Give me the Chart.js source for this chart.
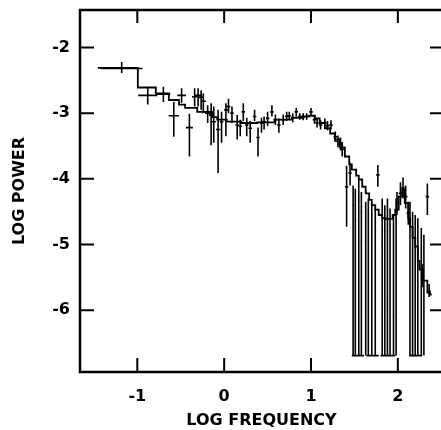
<!DOCTYPE html>
<html><head><meta charset="utf-8">
<script src="https://cdn.jsdelivr.net/npm/chart.js@4"></script>
<style>
html,body{margin:0;padding:0;background:#fff;overflow:hidden;width:441px;height:430px}
#wrap{width:441px;height:430px;overflow:hidden;position:relative}
canvas{display:block}
</style></head>
<body><div id="wrap"><canvas id="c" width="446" height="430"></canvas></div>
<script>
// ---- data (log frequency, log power) ----
const freq = [-1.18,-0.88,-0.70,-0.58,-0.49,-0.40,-0.34,-0.30,-0.265,-0.24,-0.19,-0.15,-0.12,-0.07,-0.03,
  0.02,0.05,0.09,0.15,0.185,0.22,0.26,0.30,0.35,0.39,0.43,0.46,0.50,0.55,0.59,0.63,0.68,0.72,0.75,0.79,0.83,0.87,0.91,0.95,
  1.00,1.04,1.07,1.11,1.16,1.19,1.23,1.28,1.31,1.34,1.36,1.41,1.45,1.77,1.99,2.03,2.06,2.09,2.12,2.34,2.28,2.36,
  1.485,1.51,1.55,1.58,1.63,1.66,1.70,1.74,1.82,1.85,1.88,1.91,1.95,1.98,2.14,2.17,2.20,2.23,2.27,2.30];
const power = [-2.32,-2.73,-2.71,-3.04,-2.73,-3.22,-2.75,-2.73,-2.76,-2.82,-3.00,-3.03,-3.13,-3.25,-3.13,
  -2.95,-2.90,-3.00,-3.18,-3.20,-2.98,-3.18,-3.23,-3.05,-3.37,-3.15,-3.13,-3.08,-2.98,-3.10,-3.18,-3.10,-3.05,-3.04,-3.07,-2.98,-3.05,-3.06,-3.05,
  -2.98,-3.10,-3.15,-3.18,-3.15,-3.19,-3.18,-3.36,-3.43,-3.47,-3.55,-4.12,-3.91,-3.94,-4.37,-4.22,-4.14,-4.27,-4.52,-4.27,-5.49,-5.71,
  -4.40,-4.62,-4.30,-4.50,-4.95,-4.60,-4.65,-4.80,-5.00,-4.80,-4.62,-4.70,-6.08,-4.40,-4.60,-4.75,-4.90,-5.10,-5.20,-5.30];
const freqErr = [0.24,0.11,0.08,0.06,0.05,0.04,0.03,0.03,0.03,0.03,0.03,0.025,0.025,0.025,0.02,
  0.02,0.02,0.02,0.02,0.02,0.02,0.02,0.02,0.02,0.02,0.02,0.02,0.02,0.02,0.02,0.02,0.02,0.02,0.02,0.02,0.02,0.02,0.02,0.02,
  0.02,0.02,0.02,0.02,0.02,0.02,0.02,0.02,0.02,0.02,0.02,0.02,0.02,0.02,0.02,0.02,0.02,0.02,0.02,0.02,0.02,0.02,
  0.01,0.01,0.01,0.01,0.01,0.01,0.01,0.01,0.01,0.01,0.01,0.01,0.01,0.01,0.01,0.01,0.01,0.01,0.01,0.01];
const powerLow = [-2.39,-2.87,-2.83,-3.36,-2.84,-3.66,-2.90,-2.90,-2.95,-3.00,-3.15,-3.49,-3.45,-3.91,-3.45,
  -3.35,-3.00,-3.15,-3.40,-3.35,-3.12,-3.35,-3.45,-3.12,-3.66,-3.30,-3.25,-3.20,-3.05,-3.18,-3.30,-3.18,-3.12,-3.10,-3.14,-3.05,-3.10,-3.11,-3.10,
  -3.04,-3.16,-3.22,-3.25,-3.22,-3.26,-3.25,-3.44,-3.52,-3.57,-3.66,-4.73,-4.10,-4.12,-4.55,-4.40,-4.30,-4.45,-4.70,-4.55,-5.65,-5.80,
  -6.69,-6.69,-6.69,-6.69,-6.69,-6.69,-6.69,-6.69,-6.69,-6.69,-6.69,-6.69,-6.69,-6.69,-6.69,-6.69,-6.69,-6.69,-6.69,-6.69];
const powerHigh = [-2.22,-2.62,-2.60,-2.83,-2.62,-3.01,-2.62,-2.62,-2.65,-2.70,-2.88,-2.85,-2.90,-2.95,-2.98,
  -2.85,-2.78,-2.90,-3.03,-3.10,-2.85,-3.07,-3.12,-2.95,-3.22,-3.07,-3.05,-2.98,-2.88,-3.02,-3.08,-3.02,-2.98,-2.98,-3.00,-2.92,-3.00,-3.00,-3.00,
  -2.92,-3.04,-3.08,-3.11,-3.08,-3.12,-3.11,-3.28,-3.34,-3.37,-3.44,-3.80,-3.75,-3.79,-4.20,-4.05,-3.98,-4.10,-4.35,-4.07,-5.30,-5.60,
  -4.10,-4.15,-4.00,-4.20,-4.35,-4.30,-4.40,-4.45,-4.30,-4.40,-4.30,-4.45,-4.55,-4.30,-4.35,-4.50,-4.55,-4.60,-4.75,-4.85];
// floor caps of truncated error bars
const capFrom = [1.47,1.64,1.80,2.13];
const capTo   = [1.61,1.78,1.97,2.28];
const capLevel = -6.69;
// model (step line): bin left edge, model log power
const modelFreq = [-1.455,-0.994,-0.787,-0.637,-0.52,-0.45,-0.31,-0.14,-0.08,0.03,0.20,0.38,0.58,0.78,0.90,0.98,
  1.045,1.10,1.16,1.22,1.275,1.33,1.39,1.44,1.47,1.52,1.55,1.59,1.63,1.67,1.70,1.74,1.78,1.82,1.86,1.91,1.94,1.97,
  2.01,2.05,2.08,2.12,2.14,2.17,2.20,2.23,2.25,2.29,2.34,2.37,2.39];
const modelPower = [-2.31,-2.61,-2.70,-2.80,-2.87,-2.92,-2.98,-3.06,-3.10,-3.13,-3.15,-3.14,-3.10,-3.07,-3.05,-3.04,
  -3.08,-3.15,-3.23,-3.31,-3.40,-3.52,-3.66,-3.78,-3.86,-3.95,-4.01,-4.12,-4.22,-4.32,-4.40,-4.47,-4.55,-4.60,-4.61,-4.61,-4.55,-4.47,
  -4.27,-4.17,-4.37,-4.60,-4.73,-4.90,-5.03,-5.25,-5.38,-5.55,-5.73,-5.76,-5.76];
const xTicks = [-1,0,1,2];
const yTicks = [-2,-3,-4,-5,-6];

// ---- build datasets from the arrays ----
const errSegs = [];
for (let i = 0; i < freq.length; i++) {
  errSegs.push({x: freq[i]-freqErr[i], y: power[i]}, {x: freq[i]+freqErr[i], y: power[i]}, {x: freq[i], y: null});
  errSegs.push({x: freq[i], y: powerLow[i]}, {x: freq[i], y: powerHigh[i]}, {x: freq[i], y: null});
}
for (let i = 0; i < capFrom.length; i++) {
  errSegs.push({x: capFrom[i], y: capLevel}, {x: capTo[i], y: capLevel}, {x: capTo[i], y: null});
}
const model = modelFreq.map((f, i) => ({x: f, y: modelPower[i]}));

const FONT = {family: 'DejaVu Sans', size: 16, weight: 'bold'};

const frame = {
  id: 'frame',
  afterDraw(chart) {
    const {ctx, chartArea: a, scales: {x, y}} = chart;
    ctx.save();
    ctx.strokeStyle = '#000';
    ctx.lineWidth = 2.5;
    ctx.beginPath();
    ctx.moveTo(a.right + 5, a.top); ctx.lineTo(a.left, a.top);
    ctx.lineTo(a.left, a.bottom); ctx.lineTo(a.right + 5, a.bottom);
    ctx.stroke();
    ctx.lineWidth = 2;
    ctx.beginPath();
    xTicks.forEach(v => {
      const px = x.getPixelForValue(v);
      ctx.moveTo(px, a.bottom); ctx.lineTo(px, a.bottom - 14);
      ctx.moveTo(px, a.top); ctx.lineTo(px, a.top + 13);
    });
    yTicks.forEach(v => {
      const py = y.getPixelForValue(v);
      ctx.moveTo(a.left, py); ctx.lineTo(a.left + 14, py);
      ctx.moveTo(a.right, py); ctx.lineTo(a.right - 13, py);
    });
    ctx.stroke();
    ctx.restore();
  }
};

new Chart(document.getElementById('c'), {
  type: 'scatter',
  data: {datasets: [
    {data: errSegs, showLine: true, spanGaps: false, borderColor: '#000', borderWidth: 1.6, pointRadius: 0},
    {data: model, showLine: true, stepped: true, borderColor: '#000', borderWidth: 1.8, pointRadius: 0}
  ]},
  options: {
    responsive: false, animation: false, devicePixelRatio: 1,
    layout: {padding: {top: 10, right: 3, left: 0, bottom: 0}},
    plugins: {legend: {display: false}, tooltip: {enabled: false}},
    scales: {
      x: {type: 'linear', min: -1.66, max: 2.52,
        afterBuildTicks: s => { s.ticks = xTicks.map(v => ({value: v})); },
        ticks: {font: FONT, color: '#000', padding: 15, maxRotation: 0},
        grid: {display: false, drawTicks: false}, border: {display: false},
        title: {display: true, text: 'LOG FREQUENCY', font: FONT, color: '#000', padding: {top: 0, bottom: 0}},
        afterFit: s => { s.height = 58; s.paddingLeft = 0; s.paddingRight = 0; }
      },
      y: {type: 'linear', min: -6.94, max: -1.43,
        afterBuildTicks: s => { s.ticks = yTicks.map(v => ({value: v})); },
        ticks: {font: FONT, color: '#000', padding: 10},
        grid: {display: false, drawTicks: false}, border: {display: false},
        title: {display: true, text: 'LOG POWER', font: FONT, color: '#000', padding: {top: 10, bottom: 0}},
        afterFit: s => { s.width = 80; s.paddingTop = 0; s.paddingBottom = 0; }
      }
    }
  },
  plugins: [frame]
});
</script></body></html>
